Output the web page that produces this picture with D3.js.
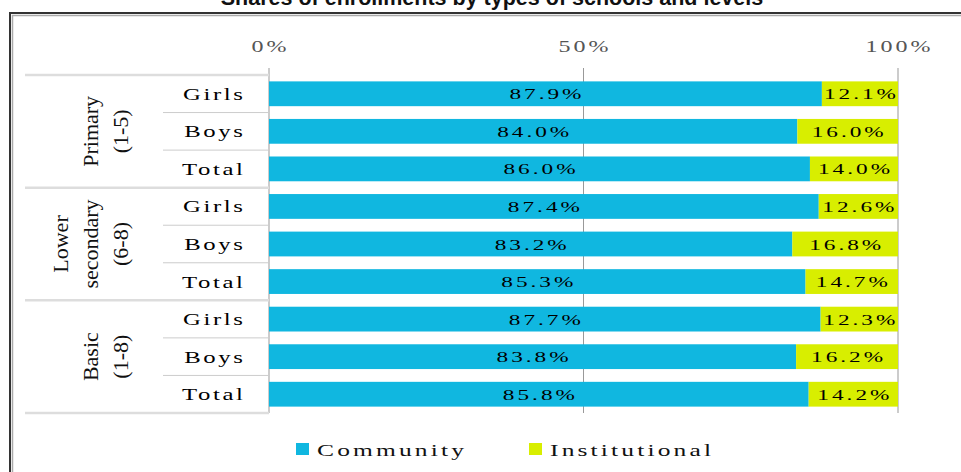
<!DOCTYPE html>
<html>
<head>
<meta charset="utf-8">
<script src="https://cdn.jsdelivr.net/npm/d3@7"></script>
<style>
body{margin:0;background:#fff;}
svg{display:block;}
.val{font-family:"Liberation Serif",serif;font-size:15.5px;fill:#000;letter-spacing:2px;}
.cat{font-family:"Liberation Serif",serif;font-size:16.5px;fill:#000;letter-spacing:1.75px;}
.grp{font-family:"Liberation Serif",serif;font-size:22px;fill:#111;}
.tick{font-family:"Liberation Serif",serif;font-size:16px;fill:#555;letter-spacing:2px;}
.leg{font-family:"Liberation Serif",serif;font-size:17px;fill:#111;letter-spacing:2.1px;}
</style>
</head>
<body>
<main></main>
<script>
// chart values
const groupLines = [["Primary","(1-5)"],["Lower","secondary","(6-8)"],["Basic","(1-8)"]];
const rowLabels = ["Girls","Boys","Total"];
const community = [87.9,84.0,86.0,87.4,83.2,85.3,87.7,83.8,85.8];
const institutional = [12.1,16.0,14.0,12.6,16.8,14.7,12.3,16.2,14.2];
const tickValues = [0,50,100];
const tickLabels = ["0%","50%","100%"];
const seriesNames = ["Community","Institutional"];
const colors = ["#10b7e0","#d8ee00"];

// the original typeface is a wide serif, so stretch a normal one
const sx = 1.5;
const at = (x,y) => "translate(" + x + "," + y + ") scale(" + sx + ",1)";

createSVG();

function createSVG(){
    var width = 961, height = 472;
    var svg = d3.select("main").append("svg")
        .attr("width", width)
        .attr("height", height);

    // title, mostly cut off at the top
    svg.append("text")
        .attr("x", 492).attr("y", 5)
        .attr("text-anchor","middle")
        .style("font-family","'Liberation Sans',Arial,sans-serif")
        .style("font-weight","bold")
        .style("font-size","21.5px")
        .style("fill","#111")
        .text("Shares of enrollments by types of schools and levels");

    // double frame
    svg.append("path").attr("d","M10,480 V13 H970")
        .attr("fill","none").attr("stroke","#333").attr("stroke-width",2);
    svg.append("path").attr("d","M12.5,480 V15.5 H970")
        .attr("fill","none").attr("stroke","#aaa").attr("stroke-width",1.5);

    const rows = d3.range(community.length);
    const xScale = d3.scaleLinear().domain([0,100]).range([269,898]);
    const yScale = d3.scaleBand().domain(rows).range([75,413])
        .paddingInner(0.34).paddingOuter(0.17);
    const step = yScale.step();
    const top = 75;

    // vertical grid lines
    svg.append("g").selectAll("line")
        .data(tickValues).enter().append("line")
        .attr("x1", d => xScale(d)).attr("x2", d => xScale(d))
        .attr("y1", 68).attr("y2", 413)
        .attr("stroke","#999").attr("stroke-width",1);

    // tick labels
    svg.append("g").selectAll("text")
        .data(tickValues).enter().append("text")
        .attr("class","tick")
        .attr("transform", d => at(xScale(d) + 1.5, 52))
        .attr("text-anchor","middle")
        .text((d,i) => tickLabels[i]);

    // row separators
    const sep = svg.append("g");
    rows.forEach(i => {
        if (i % 3 == 0) return;
        sep.append("line")
            .attr("x1",163).attr("x2",269)
            .attr("y1", top + i*step).attr("y2", top + i*step)
            .attr("stroke","#ccc").attr("stroke-width",1);
    });
    d3.range(groupLines.length + 1).forEach(g => {
        sep.append("line")
            .attr("x1",25).attr("x2",269)
            .attr("y1", top + g*3*step).attr("y2", top + g*3*step)
            .attr("stroke","#ddd").attr("stroke-width",2.5);
    });

    // row labels
    svg.append("g").selectAll("text")
        .data(rows).enter().append("text")
        .attr("class","cat")
        .attr("transform", d => at(245.5, yScale(d) + yScale.bandwidth()/2 + 6))
        .attr("text-anchor","end")
        .text(d => rowLabels[d % 3]);

    // group labels, rotated
    groupLines.forEach((lines,g) => {
        const cy = top + (g*3 + 1.5)*step;
        const t = svg.append("text")
            .attr("class","grp")
            .attr("text-anchor","middle")
            .attr("transform","translate(0," + cy + ") rotate(-90)");
        lines.forEach((l,k) => {
            t.append("tspan")
                .attr("x",0)
                .attr("y", 128 - (lines.length - 1 - k)*30)
                .text(l);
        });
    });

    // stacked bars
    const stack = rows.map(i => [
        {s:0, x0:0, x1:community[i], v:community[i], row:i},
        {s:1, x0:community[i], x1:community[i]+institutional[i], v:institutional[i], row:i}
    ]).flat();

    svg.append("g").selectAll("rect")
        .data(stack).enter().append("rect")
        .attr("x", d => xScale(d.x0))
        .attr("y", d => yScale(d.row))
        .attr("width", d => xScale(d.x1) - xScale(d.x0))
        .attr("height", yScale.bandwidth())
        .style("fill", d => colors[d.s]);

    svg.append("g").selectAll("text")
        .data(stack).enter().append("text")
        .attr("class","val")
        .attr("transform", d => at((xScale(d.x0) + xScale(d.x1))/2 + 1.5,
                                   yScale(d.row) + yScale.bandwidth()/2 + 5.5))
        .attr("text-anchor","middle")
        .text(d => d.v.toFixed(1) + "%");

    // legend
    const legX = [296, 529];
    const leg = svg.append("g");
    seriesNames.forEach((n,i) => {
        leg.append("rect")
            .attr("x", legX[i]).attr("y", 443)
            .attr("width", 13).attr("height", 12)
            .style("fill", colors[i]);
        leg.append("text")
            .attr("class","leg")
            .attr("transform", at(legX[i] + 21, 456))
            .text(n);
    });
}
</script>
</body>
</html>
